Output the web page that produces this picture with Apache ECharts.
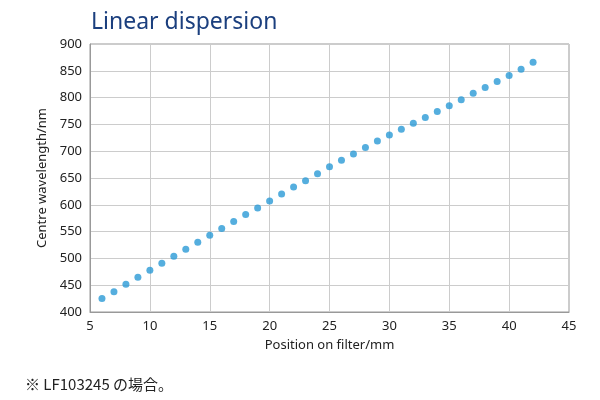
<!DOCTYPE html>
<html><head><meta charset="utf-8">
<script src="https://cdn.jsdelivr.net/npm/echarts@6/dist/echarts.min.js"></script>
<style>body{margin:0}#c{width:600px;height:400px}</style></head>
<body><div id="c"></div>
<script>
const positions=[6,7,8,9,10,11,12,13,14,15,16,17,18,19,20,21,22,23,24,25,26,27,28,29,30,31,32,33,34,35,36,37,38,39,40,41,42];
const wavelengths=[425,438,452,465,478,491,504,517,530,543,556,569,582,594,607,620,633,645,658,671,683,695,707,719,730,741,752,763,774,785,796,808,819,830,841,853,866];
const ch=echarts.init(document.getElementById('c'));
const ax={color:'#222',fontSize:13,fontFamily:'Noto Sans'};
ch.setOption({
 animation:false,
 title:[{text:'Linear dispersion',left:86,top:6,textStyle:{color:'#1b3f7e',fontSize:23,fontWeight:'normal',fontFamily:'Noto Sans'}},
        {text:'※ LF103245 の場合。',left:20,top:372,textStyle:{color:'#222',fontSize:15,fontWeight:'normal',fontFamily:'Noto Sans CJK JP'}}],
 grid:{left:90,right:31,top:44,bottom:88,show:true,borderColor:'#999',borderWidth:1},
 xAxis:{type:'value',min:5,max:45,interval:5,name:'Position on filter/mm',nameLocation:'middle',nameGap:27,nameTextStyle:ax,
  axisLabel:ax,axisLine:{lineStyle:{color:'#999'}},axisTick:{show:false},splitLine:{lineStyle:{color:'#ccc'}}},
 yAxis:{type:'value',min:400,max:900,interval:50,name:'Centre wavelength/nm',nameLocation:'middle',nameGap:38,nameTextStyle:ax,
  axisLabel:ax,axisLine:{show:true,lineStyle:{color:'#999'}},axisTick:{show:false},splitLine:{lineStyle:{color:'#ccc'}}},
 series:[{type:'scatter',symbolSize:7,itemStyle:{color:'#2b9ad6'},data:positions.map((p,i)=>[p,wavelengths[i]])}]
});
</script></body></html>
